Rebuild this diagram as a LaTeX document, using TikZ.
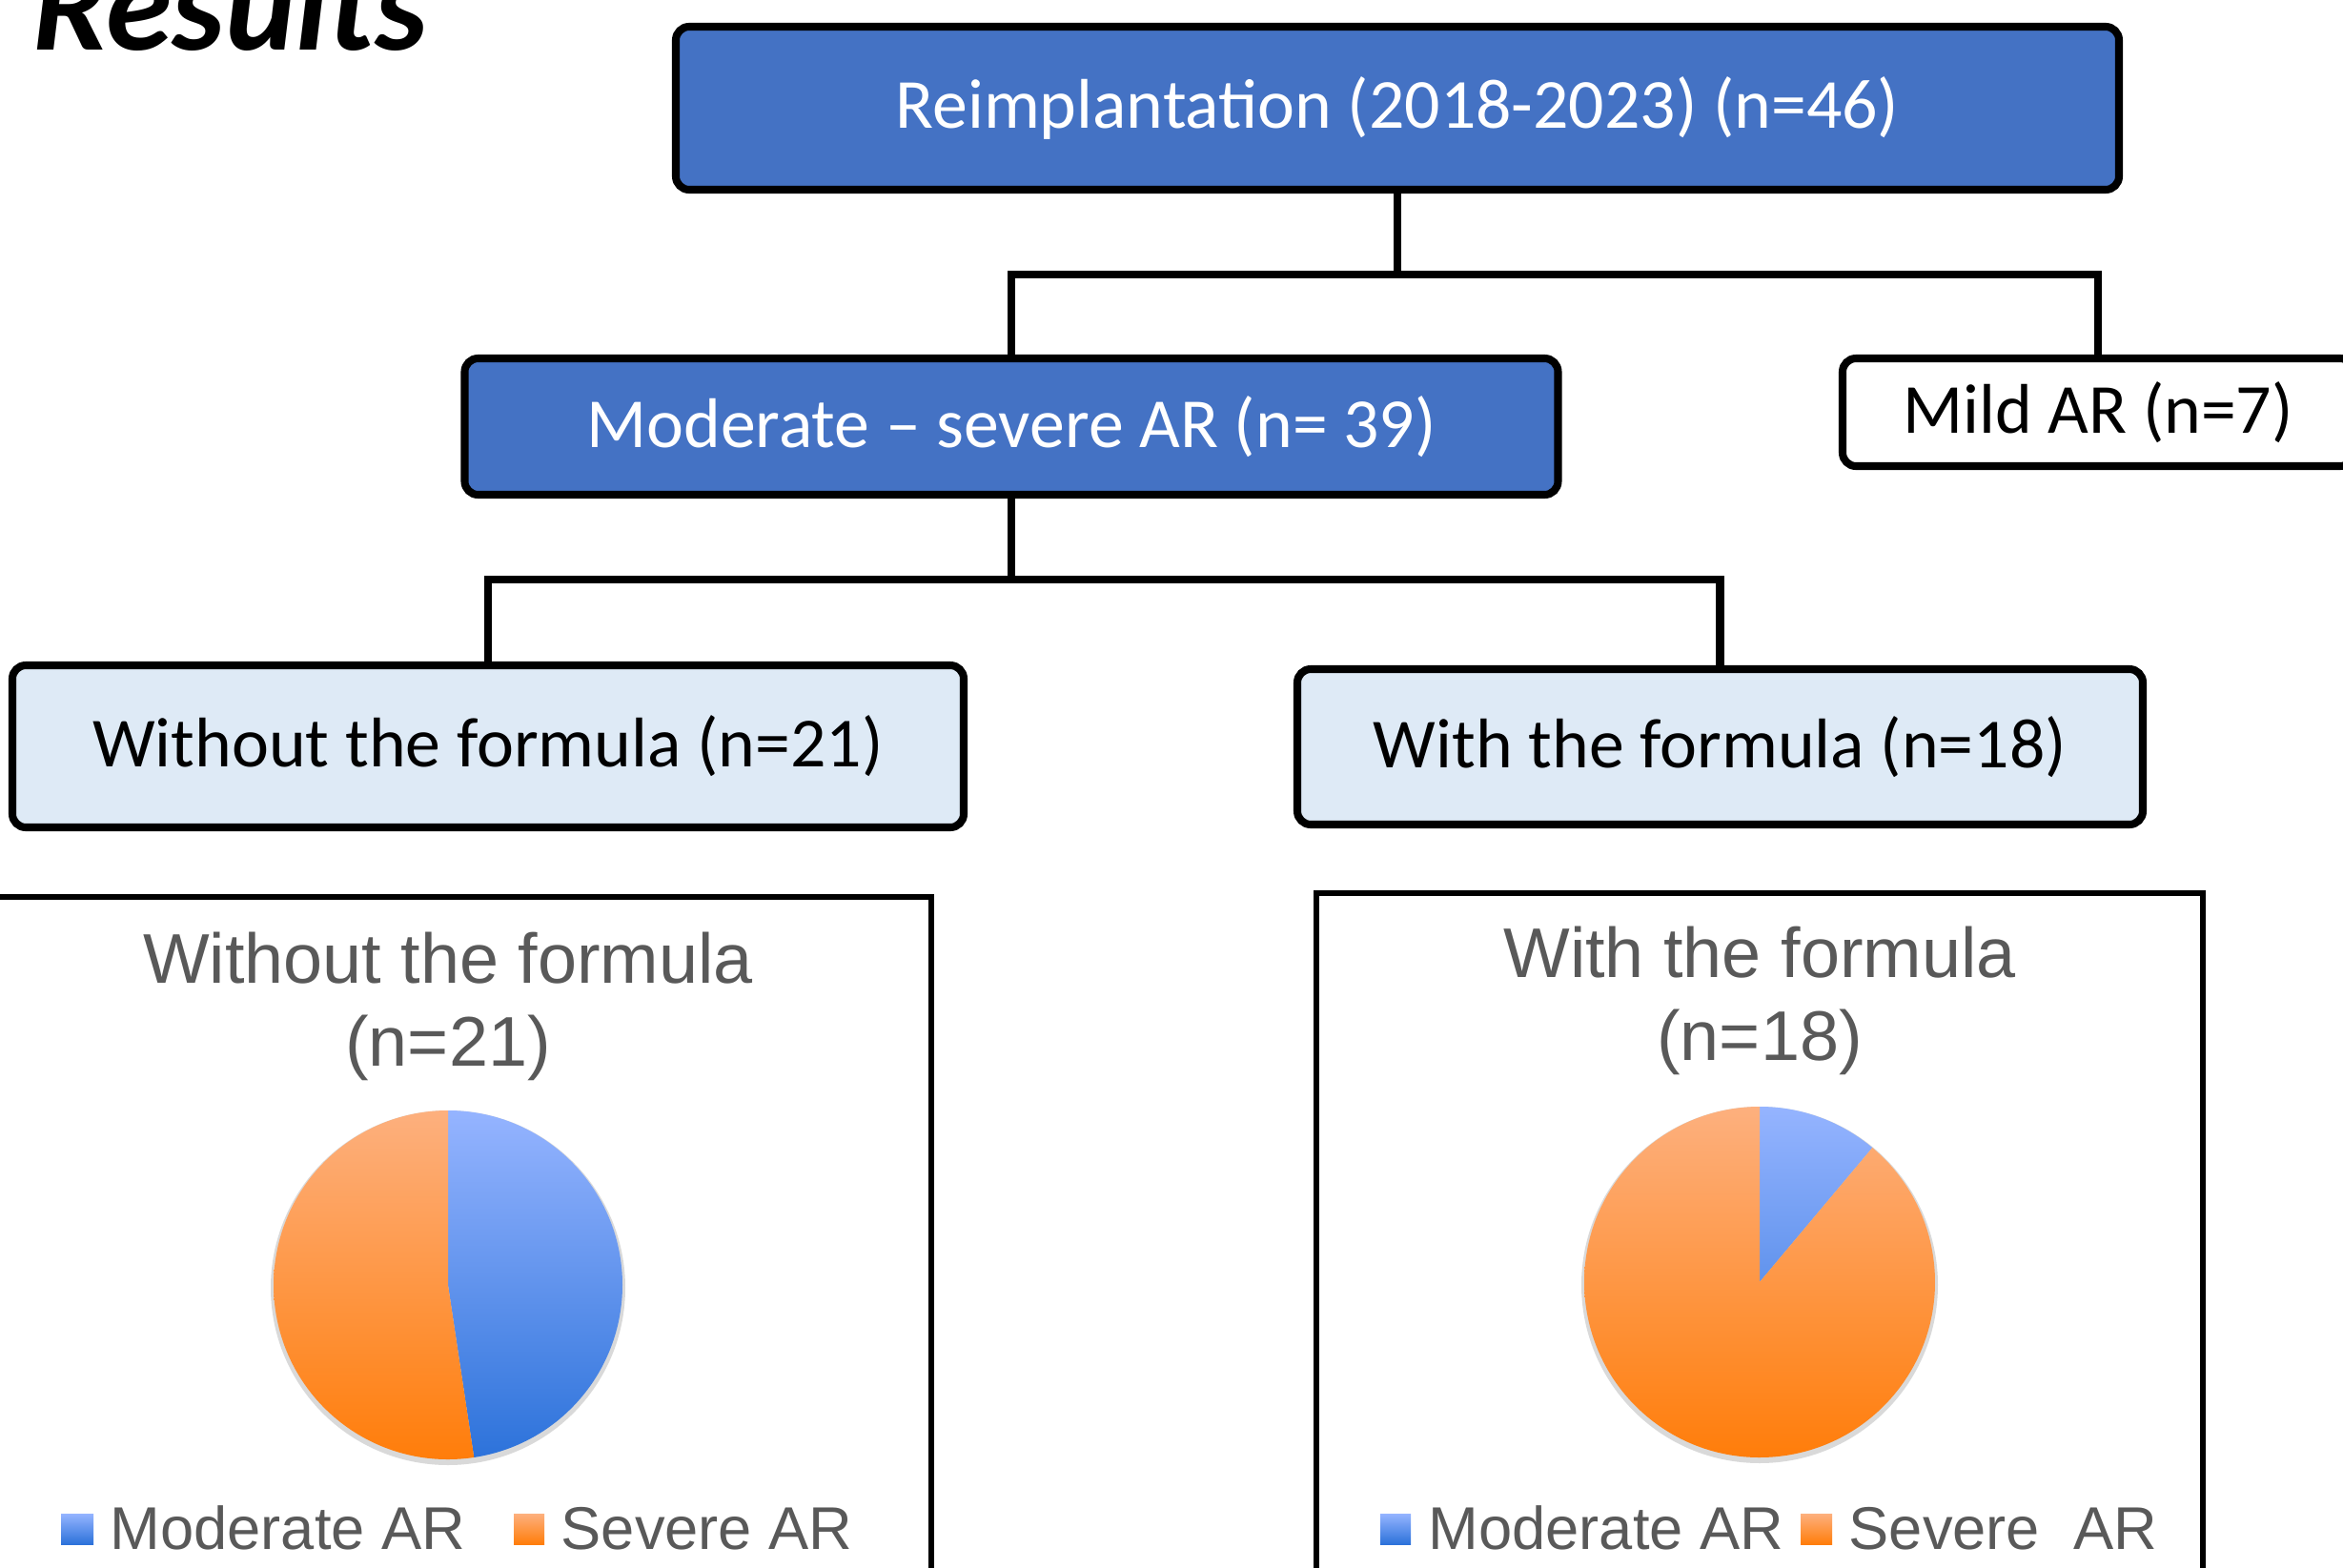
\documentclass[tikz,border=0pt]{standalone}
\usepackage{fontspec}
\setmainfont{Carlito}
\newfontfamily\chartfont{Liberation Sans}
\usetikzlibrary{positioning}
\definecolor{BoxBlue}{RGB}{68,114,196}
\definecolor{BoxLight}{RGB}{222,234,246}
\definecolor{ChartGray}{RGB}{89,89,89}
\definecolor{PieBlueTop}{RGB}{149,180,255}
\definecolor{PieBlueBot}{RGB}{44,114,218}
\definecolor{PieOrangeTop}{RGB}{253,176,126}
\definecolor{PieOrangeBot}{RGB}{255,125,10}
\begin{document}
\begin{tikzpicture}[
        stage/.style={rectangle,rounded corners=4pt,draw=black,line width=2.3pt,
                      fill=BoxBlue,text=white,inner sep=0pt,
                      font=\fontsize{21}{25}\selectfont},
        group/.style={stage,fill=BoxLight,text=black},
        side/.style={stage,fill=white,text=black},
        link/.style={draw=black,line width=2.3pt},
        frame/.style={draw=black,line width=1.6pt},
        charttitle/.style={font=\chartfont\fontsize{21}{24.75}\selectfont,
                           text=ChartGray,align=center,inner sep=0pt,anchor=base},
        legend/.style={font=\chartfont\fontsize{18}{21}\selectfont,
                       text=ChartGray,inner sep=0pt,anchor=base west}
      ]
        \useasboundingbox (0,0) rectangle (24.58,-16.45);
        \node[anchor=base west,inner sep=0pt,
              font=\fontsize{40}{48}\selectfont\bfseries\itshape] (results) at (0.34,-0.52) {Results};
        % flow chart
        \node[stage,minimum width=15.14cm,minimum height=1.71cm] (top) at (14.66,-1.135)
          {Reimplantation (2018-2023) (n=46)};
        \node[stage,minimum width=11.47cm,minimum height=1.43cm] (mod) at (10.61,-4.475)
          {Moderate – severe AR (n= 39)};
        \node[side,minimum width=5.36cm,minimum height=1.13cm] (mild) at (22.01,-4.325)
          {Mild AR (n=7)};
        \node[group,minimum width=9.98cm,minimum height=1.70cm] (without) at (5.12,-7.83)
          {Without the formula (n=21)};
        \node[group,minimum width=8.87cm,minimum height=1.63cm] (with) at (18.045,-7.835)
          {With the formula (n=18)};
        \coordinate (split1) at (14.66,-2.88);
        \coordinate (split2) at (10.61,-6.08);
        \draw[link] (top.south) -- (split1);
        \draw[link] (split1) -| (mod.north);
        \draw[link] (split1) -| (mild.north);
        \draw[link] (mod.south) -- (split2);
        \draw[link] (split2) -| (without.north);
        \draw[link] (split2) -| (with.north);
        % charts
        \draw[frame] (-0.2,-16.8) -- (-0.2,-9.41) -- (9.77,-9.41) -- (9.77,-16.8);
        \draw[frame] (13.81,-16.8) -- (13.81,-9.37) -- (23.11,-9.37) -- (23.11,-16.8);
        \node[charttitle] (title1) at (4.70,-11.18) {Without the formula\\(n=21)};
        \node[charttitle] (title2) at (18.46,-11.12) {With the formula\\(n=18)};
        % left pie: 10 moderate, 11 severe
        \fill[black!15] (4.70,-13.51) circle (1.86);
        \begin{scope}
          \clip (4.70,-13.48) -- ++(90:1.83) arc[start angle=90,end angle=-81.43,radius=1.83] -- cycle;
          \shade[top color=PieBlueTop,bottom color=PieBlueBot] (2.87,-11.65) rectangle (6.53,-15.31);
        \end{scope}
        \begin{scope}
          \clip (4.70,-13.48) -- ++(-81.43:1.83) arc[start angle=-81.43,end angle=-270,radius=1.83] -- cycle;
          \shade[top color=PieOrangeTop,bottom color=PieOrangeBot] (2.87,-11.65) rectangle (6.53,-15.31);
        \end{scope}
        % right pie: 2 moderate, 16 severe
        \fill[black!15] (18.46,-13.48) circle (1.87);
        \begin{scope}
          \clip (18.46,-13.45) -- ++(90:1.84) arc[start angle=90,end angle=50,radius=1.84] -- cycle;
          \shade[top color=PieBlueTop,bottom color=PieBlueBot] (16.62,-11.61) rectangle (20.30,-15.29);
        \end{scope}
        \begin{scope}
          \clip (18.46,-13.45) -- ++(50:1.84) arc[start angle=50,end angle=-270,radius=1.84] -- cycle;
          \shade[top color=PieOrangeTop,bottom color=PieOrangeBot] (16.62,-11.61) rectangle (20.30,-15.29);
        \end{scope}
        % legends
        \shade[top color=PieBlueTop,bottom color=PieBlueBot] (0.64,-15.88) rectangle (0.98,-16.20);
        \node[legend] (leg1a) at (1.15,-16.25) {Moderate AR};
        \shade[top color=PieOrangeTop,bottom color=PieOrangeBot] (5.39,-15.88) rectangle (5.71,-16.20);
        \node[legend] (leg1b) at (5.88,-16.25) {Severe AR};
        \shade[top color=PieBlueTop,bottom color=PieBlueBot] (14.48,-15.88) rectangle (14.80,-16.20);
        \node[legend] (leg2a) at (14.98,-16.25) {Moderate AR};
        \shade[top color=PieOrangeTop,bottom color=PieOrangeBot] (18.89,-15.88) rectangle (19.22,-16.20);
        \node[legend] (leg2b) at (19.39,-16.25) {Severe\ \ AR};
      \end{tikzpicture}
\end{document}
